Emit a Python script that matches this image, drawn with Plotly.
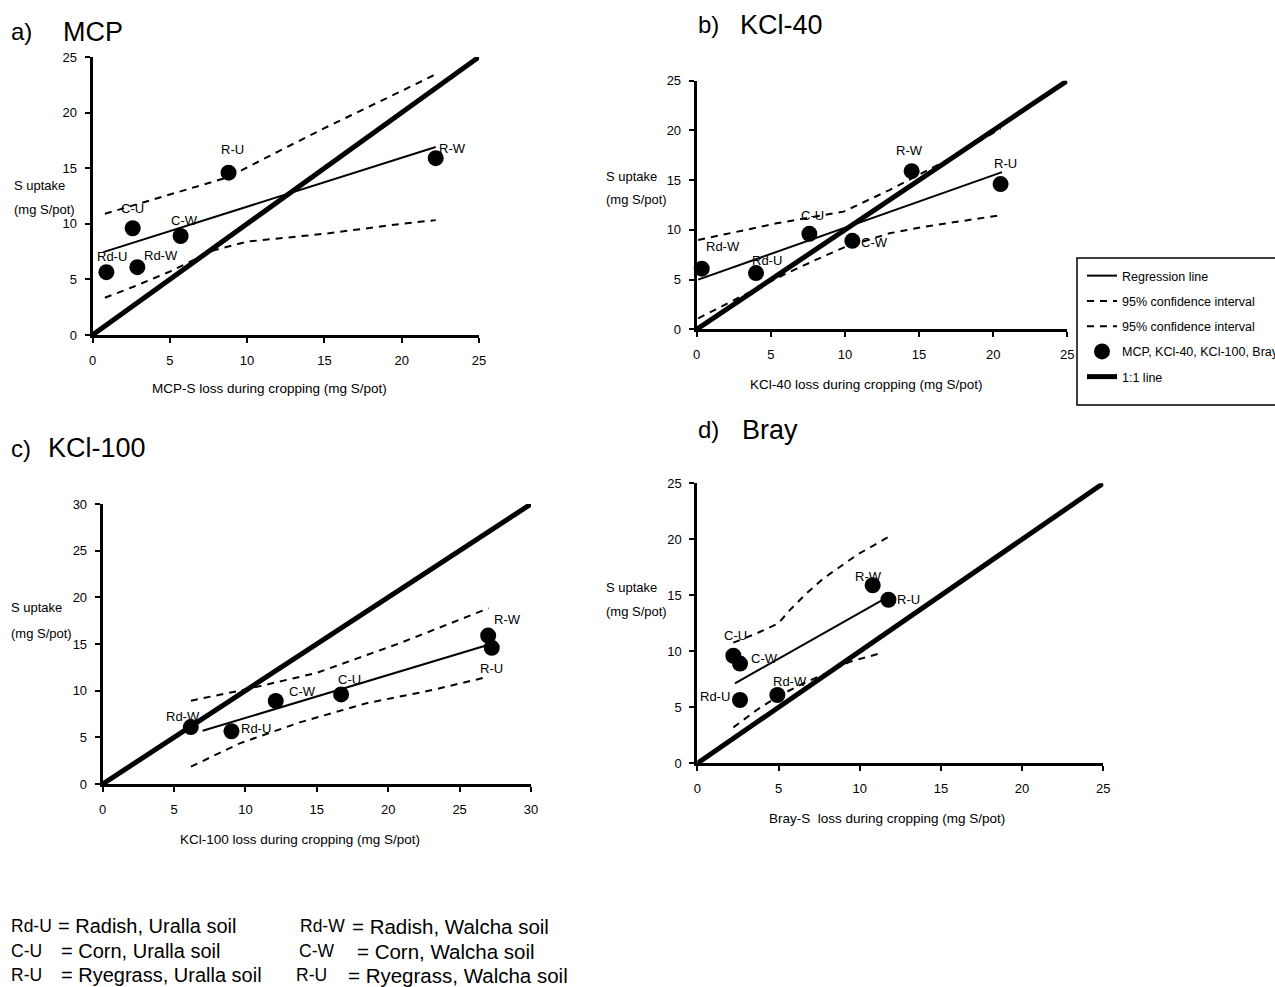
import plotly.graph_objects as go

W, H = 1275, 987

# ---------------- data ----------------
labels = ["Rd-U", "Rd-W", "C-U", "C-W", "R-U", "R-W"]
s_uptake = [5.65, 6.1, 9.6, 8.9, 14.6, 15.9]

mcp_loss = [0.9, 2.9, 2.6, 5.7, 8.8, 22.2]
kcl40_loss = [4.0, 0.34, 7.6, 10.5, 20.5, 14.5]
kcl100_loss = [9.02, 6.17, 16.7, 12.12, 27.25, 27.0]
bray_loss = [2.63, 4.93, 2.22, 2.63, 11.77, 10.8]

# regression lines
mcp_reg_x, mcp_reg_y = [0.7, 22.2], [7.45, 16.9]
kcl40_reg_x, kcl40_reg_y = [0.1, 20.6], [5.0, 15.8]
kcl100_reg_x, kcl100_reg_y = [7.0, 27.2], [5.7, 15.0]
bray_reg_x, bray_reg_y = [2.32, 11.66], [7.14, 14.8]

# 95% confidence interval curves
mcp_up_x = [0.8, 5, 8.8, 12, 15, 20, 22.2]
mcp_up_y = [10.9, 12.6, 14.2, 16.5, 18.6, 21.95, 23.45]
mcp_lo_x = [0.8, 2.65, 5, 7.8, 10, 15, 20, 22.2]
mcp_lo_y = [3.35, 4.34, 5.7, 7.6, 8.4, 9.1, 10.0, 10.33]

kcl40_up_x = [0.1, 5.4, 9.9, 13.0, 17.5, 20.5]
kcl40_up_y = [8.98, 10.66, 11.83, 14.0, 17.5, 20.2]
kcl40_lo_x = [0.1, 3.37, 6.07, 8.5, 10.05, 13.0, 15.3, 20.6]
kcl40_lo_y = [1.1, 3.62, 5.63, 7.3, 8.3, 9.65, 10.3, 11.5]

kcl100_up_x = [6.18, 10.07, 14.97, 20.8, 27.03]
kcl100_up_y = [8.93, 10.15, 11.9, 15.08, 18.83]
kcl100_lo_x = [6.18, 9.6, 13.8, 18.47, 23.1, 27.03]
kcl100_lo_y = [1.86, 4.36, 6.6, 8.65, 10.07, 11.5]

bray_up_x = [2.22, 3.66, 4.99, 5.71, 6.74, 7.76, 9.82, 11.87]
bray_up_y = [10.77, 11.6, 12.5, 13.7, 15.2, 16.5, 18.6, 20.3]
bray_lo_x = [2.22, 3.66, 5.0, 6.53, 8.17, 9.4, 11.42]
bray_lo_y = [3.21, 4.76, 6.0, 7.14, 8.18, 9.07, 9.88]

# 1:1 line extents
one_a, one_b, one_c, one_d = [0, 25], [0, 25], [0, 30], [0, 25]

panel_titles = ["a)", "b)", "c)", "d)"]
panel_names = ["MCP", "KCl-40", "KCl-100", "Bray"]
x_titles = ["MCP-S loss during cropping (mg S/pot)",
            "KCl-40 loss during cropping (mg S/pot)",
            "KCl-100 loss during cropping (mg S/pot)",
            "Bray-S  loss during cropping (mg S/pot)"]
y_title_1, y_title_2 = "S uptake", "(mg S/pot)"

# label pixel offsets from points (per panel, order of labels)
off_a = [(6, -16), (24, -12), (0, -20), (4, -16), (4, -23), (17, -10)]
off_b = [(11, -13), (21, -22), (3, -18), (22, 2), (5, -21), (-2, -21)]
off_c = [(25, -3), (-8, -11), (8, -15), (27, -9), (0, 21), (19, -16)]
off_d = [(-25, -4), (13, -13), (2, -20), (24, -5), (20, 0), (-4, -9)]

foot_codes_1 = ["Rd-U", "C-U", "R-U"]
foot_text_1 = ["= Radish, Uralla soil", "= Corn, Uralla soil", "= Ryegrass, Uralla soil"]
foot_codes_2 = ["Rd-W", "C-W", "R-U"]
foot_text_2 = ["= Radish, Walcha soil", "= Corn, Walcha soil", "= Ryegrass, Walcha soil"]

# ---------------- layout geometry (pixels) ----------------
FONT = "Liberation Sans, Arial, Helvetica, sans-serif"


def px_x(p):
    return p / W


def px_y(p):
    return 1 - p / H


panels = [
    dict(x=mcp_loss, reg=(mcp_reg_x, mcp_reg_y), up=(mcp_up_x, mcp_up_y), lo=(mcp_lo_x, mcp_lo_y),
         one=one_a, dom_x=(92.5, 479), dom_y=(57, 335), rng=25, off=off_a,
         title_pos=(9, 32), name_pos=(61, 32), xt_pos=(269, 388), yt_pos=(12, 185, 210)),
    dict(x=kcl40_loss, reg=(kcl40_reg_x, kcl40_reg_y), up=(kcl40_up_x, kcl40_up_y), lo=(kcl40_lo_x, kcl40_lo_y),
         one=one_b, dom_x=(696.7, 1067.3), dom_y=(80.7, 329.3), rng=25, off=off_b,
         title_pos=(696, 25), name_pos=(738, 25), xt_pos=(866, 384), yt_pos=(604, 176, 199)),
    dict(x=kcl100_loss, reg=(kcl100_reg_x, kcl100_reg_y), up=(kcl100_up_x, kcl100_up_y), lo=(kcl100_lo_x, kcl100_lo_y),
         one=one_c, dom_x=(102.7, 531), dom_y=(504, 784), rng=30, off=off_c,
         title_pos=(9, 448), name_pos=(46, 448), xt_pos=(300, 839), yt_pos=(9, 607, 633)),
    dict(x=bray_loss, reg=(bray_reg_x, bray_reg_y), up=(bray_up_x, bray_up_y), lo=(bray_lo_x, bray_lo_y),
         one=one_d, dom_x=(697.3, 1103.3), dom_y=(483.3, 763.3), rng=25, off=off_d,
         title_pos=(696, 430), name_pos=(740, 430), xt_pos=(887, 818), yt_pos=(604, 587, 611)),
]

fig = go.Figure()
annotations = []
layout_axes = {}
DASH = "7px,6px"

for i, p in enumerate(panels):
    n = "" if i == 0 else str(i + 1)
    xa, ya = "x" + n, "y" + n
    show = (i == 1)
    fig.add_trace(go.Scatter(x=p["reg"][0], y=p["reg"][1], mode="lines", xaxis=xa, yaxis=ya,
                             line=dict(color="black", width=2), name="Regression line",
                             showlegend=show, legendgroup="g1", legendrank=1, cliponaxis=False))
    fig.add_trace(go.Scatter(x=p["up"][0], y=p["up"][1], mode="lines", xaxis=xa, yaxis=ya,
                             line=dict(color="black", width=2, dash=DASH),
                             name="95% confidence interval", showlegend=show, legendgroup="g2",
                             legendrank=2, cliponaxis=False))
    fig.add_trace(go.Scatter(x=p["lo"][0], y=p["lo"][1], mode="lines", xaxis=xa, yaxis=ya,
                             line=dict(color="black", width=2, dash=DASH),
                             name="95% confidence interval", showlegend=show, legendgroup="g3",
                             legendrank=3, cliponaxis=False))
    fig.add_trace(go.Scatter(x=p["one"], y=p["one"], mode="lines", xaxis=xa, yaxis=ya,
                             line=dict(color="black", width=5), name="1:1 line",
                             showlegend=show, legendgroup="g5", legendrank=5, cliponaxis=False))
    fig.add_trace(go.Scatter(x=p["x"], y=s_uptake, mode="markers", xaxis=xa, yaxis=ya,
                             marker=dict(color="black", size=16), name="MCP, KCl-40, KCl-100, Bray",
                             showlegend=show, legendgroup="g4", legendrank=4, cliponaxis=False))

    rng = p["rng"]
    common = dict(range=[0, rng], showline=True, linecolor="black", linewidth=3,
                  ticks="outside", ticklen=5, tickwidth=2, tickcolor="black",
                  showgrid=False, zeroline=False, dtick=5,
                  tickfont=dict(family=FONT, size=13, color="black"))
    layout_axes["xaxis" + n] = dict(common, domain=[px_x(p["dom_x"][0]), px_x(p["dom_x"][1])],
                                    anchor=ya, ticklabelstandoff=6)
    layout_axes["yaxis" + n] = dict(common, domain=[px_y(p["dom_y"][1]), px_y(p["dom_y"][0])],
                                    anchor=xa, ticklabelstandoff=5)

    for lab, xv, yv, (dx, dy) in zip(labels, p["x"], s_uptake, p["off"]):
        annotations.append(dict(x=xv, y=yv, xref=xa, yref=ya, text=lab, showarrow=False,
                                xshift=dx, yshift=-dy,
                                font=dict(family=FONT, size=13, color="black")))
    annotations.append(dict(x=px_x(p["title_pos"][0]), y=px_y(p["title_pos"][1]), xref="paper", yref="paper",
                            text=panel_titles[i], showarrow=False, xanchor="left", yanchor="middle",
                            font=dict(family=FONT, size=24, color="black")))
    annotations.append(dict(x=px_x(p["name_pos"][0]), y=px_y(p["name_pos"][1]), xref="paper", yref="paper",
                            text=panel_names[i], showarrow=False, xanchor="left", yanchor="middle",
                            font=dict(family=FONT, size=27, color="black")))
    annotations.append(dict(x=px_x(p["xt_pos"][0]), y=px_y(p["xt_pos"][1]), xref="paper", yref="paper",
                            text=x_titles[i], showarrow=False, xanchor="center", yanchor="middle",
                            font=dict(family=FONT, size=13.5, color="black")))
    for txt, yy in [(y_title_1, p["yt_pos"][1]), (y_title_2, p["yt_pos"][2])]:
        annotations.append(dict(x=px_x(p["yt_pos"][0]), y=px_y(yy), xref="paper", yref="paper",
                                text=txt, showarrow=False, xanchor="left", yanchor="middle",
                                font=dict(family=FONT, size=13, color="black")))

# footnote
foot_rows_y = [926, 951, 975]
col1_code_x, col1_text_x = [9, 9, 9], [56, 59, 59]
col2_code_x, col2_text_x = [298, 297, 294], [350, 355, 346]
for r in range(3):
    for xx, txt, fs in [(col1_code_x[r], foot_codes_1[r], 17.5), (col1_text_x[r], foot_text_1[r], 20),
                        (col2_code_x[r], foot_codes_2[r], 17.5), (col2_text_x[r], foot_text_2[r], 20.5)]:
        annotations.append(dict(x=px_x(xx), y=px_y(foot_rows_y[r]), xref="paper", yref="paper",
                                text=txt, showarrow=False, xanchor="left", yanchor="middle",
                                font=dict(family=FONT, size=fs, color="black")))

# legend frame
shapes = [dict(type="rect", xref="paper", yref="paper",
               x0=px_x(1077), x1=px_x(1320), y0=px_y(405), y1=px_y(258),
               line=dict(color="black", width=1.5), fillcolor="rgba(0,0,0,0)")]

fig.update_layout(
    width=W, height=H,
    margin=dict(l=0, r=0, t=0, b=0, autoexpand=False),
    paper_bgcolor="white", plot_bgcolor="white",
    annotations=annotations,
    shapes=shapes,
    showlegend=True,
    legend=dict(x=px_x(1082), y=px_y(261), xanchor="left", yanchor="top",
                borderwidth=0, bgcolor="rgba(0,0,0,0)",
                font=dict(family=FONT, size=12.5, color="black"),
                traceorder="grouped", tracegroupgap=6),
    **layout_axes,
)

fig.write_html("out.html", config={"displayModeBar": False},
               post_script="document.body.style.margin='0';document.body.style.overflow='hidden';")
